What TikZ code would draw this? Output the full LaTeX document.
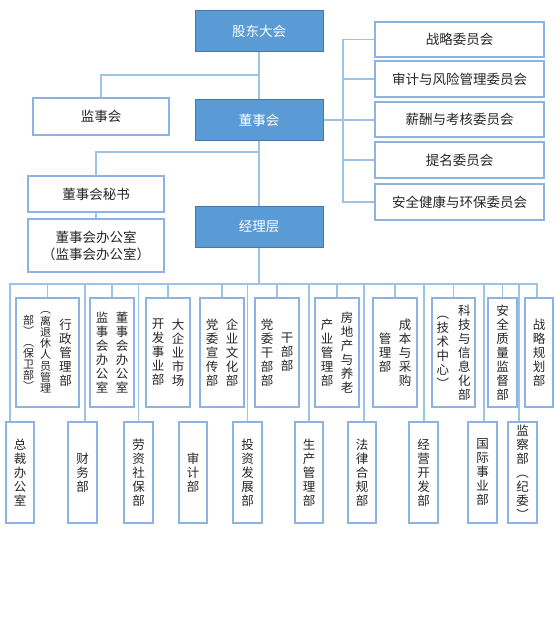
\documentclass[tikz,border=0pt]{standalone}
\usepackage{fontspec}
\setmainfont{Noto Sans CJK SC}
\definecolor{bfill}{HTML}{5B9BD5}
\definecolor{bdraw}{HTML}{4577B0}
\definecolor{wline}{HTML}{8DB3E2}
\definecolor{cline}{HTML}{9DC3E6}
\definecolor{txt}{HTML}{262626}
\newlength\vcolw
\def\vcolEnd{}
\def\vcolA#1{\ifx\vcolEnd#1\else\hbox to \vcolw{\hss#1\hss}\expandafter\vcolA\fi}
\newcommand\vcol[2][14pt]{\setlength\vcolw{1em}$\vcenter{\baselineskip=#1\relax\lineskiplimit=-100pt\lineskip=0pt\vcolA#2\vcolEnd}$}
\begin{document}
\begin{tikzpicture}[x=1pt,y=-1pt,
  rc/.style n args={4}{minimum width={(#3-#1)*1pt}, minimum height={(#4-#2)*1pt}, at={({(#1+#3)/2},{(#2+#4)/2})}},
  bb/.style={draw=bdraw, fill=bfill, line width=1pt, text=white, inner sep=0pt, font=\fontsize{13.5}{16}\selectfont},
  wb/.style={draw=wline, fill=white, line width=1.3pt, text=txt, inner sep=0pt, align=center, font=\fontsize{13.5}{17}\selectfont},
  vb/.style={draw=wline, fill=white, line width=1.3pt, text=txt, inner sep=0pt, font=\fontsize{12.5}{14}\selectfont},
  conn/.style={draw=cline, line width=1.3pt}]
\useasboundingbox (0,0) rectangle (554,623);

% coordinates on spines and buses
\coordinate (b1) at (259,75);
\coordinate (b2) at (259,152);
\coordinate (cb) at (343,120);
\coordinate (hub) at (259,284);

% top nodes
\node[bb, rc={195}{11}{323}{52}] (gd) {股东大会};
\node[bb, rc={195}{100}{323}{140}] (dsh) {董事会};
\node[bb, rc={195}{206}{323}{247}] (jl) {经理层};
\node[wb, rc={33}{98}{169}{135}] (jsh) {监事会};
\node[wb, rc={28}{176}{164}{212}] (ms) {董事会秘书};
\node[wb, rc={28}{219}{164}{272}] (bgs) {董事会办公室\\（监事会办公室）};

% committees
\node[wb, rc={375}{22}{544}{57}] (c1) {战略委员会};
\node[wb, rc={375}{61}{544}{97}] (c2) {审计与风险管理委员会};
\node[wb, rc={375}{102}{544}{137}] (c3) {薪酬与考核委员会};
\node[wb, rc={375}{142}{544}{178}] (c4) {提名委员会};
\node[wb, rc={375}{184}{544}{220}] (c5) {安全健康与环保委员会};

% upper row
\node[vb, rc={16}{298}{79}{407}] (u1) {{\fontsize{11}{11.5}\selectfont\vcol[11pt]{部︶︵保卫部︶}\hspace{6pt}\vcol[11.3pt]{︵离退休人员管理}}\hspace{8pt}\vcol{行政管理部}};
\node[vb, rc={90}{298}{134}{407}] (u2) {\vcol{监事会办公室}\hspace{7.5pt}\vcol{董事会办公室}};
\node[vb, rc={146}{298}{190}{407}] (u3) {\vcol{开发事业部}\hspace{7.5pt}\vcol{大企业市场}};
\node[vb, rc={200}{298}{244}{407}] (u4) {\vcol{党委宣传部}\hspace{7.5pt}\vcol{企业文化部}};
\node[vb, rc={255}{298}{299}{407}] (u5) {\vcol{党委干部部}\hspace{7.5pt}\vcol{干部部}};
\node[vb, rc={315}{298}{359}{407}] (u6) {\vcol{产业管理部}\hspace{7.5pt}\vcol{房地产与养老}};
\node[vb, rc={373}{298}{417}{407}] (u7) {\vcol{管理部}\hspace{7.5pt}\vcol{成本与采购}};
\node[vb, rc={432}{298}{475}{407}] (u8) {\vcol{︵技术中心︶}\hspace{9pt}\vcol{科技与信息化部}};
\node[vb, rc={488}{298}{517}{407}] (u9) {\vcol{安全质量监督部}};
\node[vb, rc={525}{298}{553}{407}] (u10) {\vcol{战略规划部}};

% lower row
\node[vb, rc={6}{422}{34}{523}] (l1) {\vcol{总裁办公室}};
\node[vb, rc={68}{422}{97}{523}] (l2) {\vcol{财务部}};
\node[vb, rc={124}{422}{153}{523}] (l3) {\vcol{劳资社保部}};
\node[vb, rc={179}{422}{207}{523}] (l4) {\vcol{审计部}};
\node[vb, rc={233}{422}{262}{523}] (l5) {\vcol{投资发展部}};
\node[vb, rc={295}{422}{323}{523}] (l6) {\vcol{生产管理部}};
\node[vb, rc={348}{422}{376}{523}] (l7) {\vcol{法律合规部}};
\node[vb, rc={409}{422}{438}{523}] (l8) {\vcol{经营开发部}};
\node[vb, rc={468}{422}{497}{523}] (l9) {\vcol{国际事业部}};
\node[vb, rc={508}{422}{537}{523}] (l10) {\vcol{监察部︵纪委︶}};

% connectors
\path[conn] (gd.south) -- (dsh.north);
\path[conn] (dsh.south) -- (jl.north);
\path[conn] (jl.south) -- (hub);
\path[conn] (jsh.north) |- (b1);
\path[conn] (ms.north) |- (b2);
\path[conn] (ms.south) -- (bgs.north);
\path[conn] (dsh.east) -- (dsh.east -| c3.west);
\path[conn] (c1.west) -| (cb);
\path[conn] (c2.west) -| (cb);
\path[conn] (c4.west) -| (cb);
\path[conn] (c5.west) -| (cb);
\foreach \n in {u1,u2,u3,u4,u5,u6,u7,u8,u9}{\path[conn] (\n.north) |- (hub);}
\path[conn] ([xshift=-2pt]u10.north) |- (hub);
\path[conn] ([xshift=-10pt]l1.north) |- (hub);
\path[conn] ([xshift=2.5pt]l2.north) |- (hub);
\path[conn] (l3.north) |- (hub);
\path[conn] (l5.north) |- (hub);
\path[conn] (l6.north) |- (hub);
\path[conn] ([xshift=2pt]l7.north) |- (hub);
\path[conn] ([xshift=0.5pt]l8.north) |- (hub);
\path[conn] ([xshift=1.5pt]l9.north) |- (hub);
\path[conn] ([xshift=-3.5pt]l10.north) |- (hub);
\end{tikzpicture}
\end{document}
